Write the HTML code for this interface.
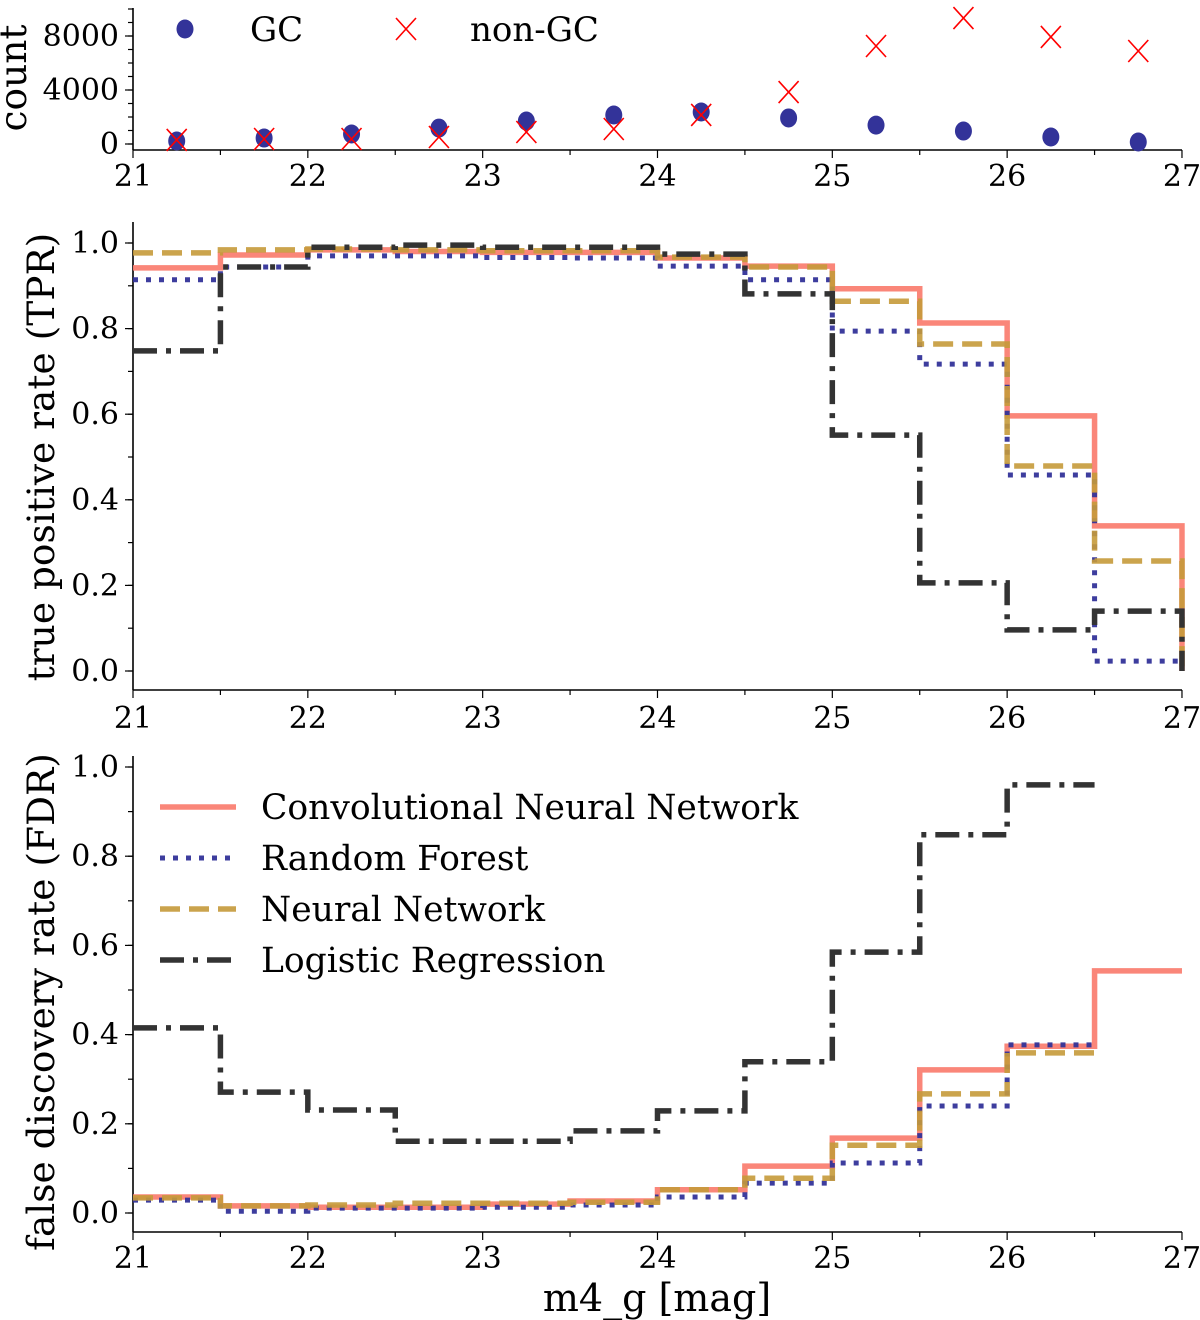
<!DOCTYPE html>
<html><head><meta charset="utf-8"><style>
html,body{margin:0;padding:0;background:#fff;}
svg{display:block;font-family:"DejaVu Serif","Liberation Serif",serif;}
</style></head><body>
<svg id="chart" width="1200" height="1320" viewBox="0 0 1200 1320" xmlns="http://www.w3.org/2000/svg"></svg>
<script>
const binCenters = [21.25,21.75,22.25,22.75,23.25,23.75,24.25,24.75,25.25,25.75,26.25,26.75];
const gcCounts = [220,440,740,1180,1700,2150,2370,1930,1400,960,520,150];
const nonGcCounts = [300,370,370,520,890,1110,2150,3850,7260,9330,7930,6890];
const binEdges = [21,21.5,22,22.5,23,23.5,24,24.5,25,25.5,26,26.5,27];
const tprCNN = [0.942,0.972,0.984,0.98,0.978,0.978,0.965,0.946,0.893,0.813,0.596,0.339];
const tprRF = [0.914,0.944,0.97,0.97,0.966,0.965,0.946,0.914,0.794,0.717,0.458,0.023];
const tprNN = [0.977,0.984,0.986,0.984,0.982,0.982,0.967,0.944,0.864,0.764,0.479,0.257];
const tprLR = [0.748,0.944,0.99,0.995,0.99,0.99,0.974,0.881,0.551,0.206,0.096,0.14];
const fdrCNN = [0.036,0.016,0.013,0.013,0.02,0.027,0.052,0.105,0.168,0.321,0.374,0.543];
const fdrRF = [0.029,0.004,0.011,0.011,0.013,0.018,0.036,0.067,0.112,0.24,0.377];
const fdrNN = [0.034,0.016,0.018,0.022,0.022,0.024,0.052,0.078,0.152,0.267,0.359];
const fdrLR = [0.415,0.271,0.231,0.161,0.161,0.184,0.229,0.339,0.585,0.848,0.96];
const xTicks = [21,22,23,24,25,26,27];
const countTicks = [0,4000,8000];
const rateTicks = [0.0,0.2,0.4,0.6,0.8,1.0];

const NS="http://www.w3.org/2000/svg";
const svg=document.getElementById('chart');
function mk(tag,attrs,parent){const e=document.createElementNS(NS,tag);for(const k in attrs)e.setAttribute(k,attrs[k]);(parent||svg).appendChild(e);return e;}
const X=v=>133+(v-21)*174.83;
const panels={
  top:{y0:144,scale:108/8000,top:8,bottom:150,labY:186},
  mid:{y0:671,scale:428,top:222,bottom:690,labY:728},
  bot:{y0:1213,scale:446,top:756,bottom:1232,labY:1268}
};
function Y(p,v){return p.y0-v*p.scale;}

function axes(name,p,yTicks,yMinor,fmt){
  const g=mk('g',{});
  
  
  mk('line',{x1:133,y1:p.top,x2:133,y2:p.bottom,stroke:'#000','stroke-width':1.6},g);
  mk('line',{x1:133,y1:p.bottom,x2:1182,y2:p.bottom,stroke:'#000','stroke-width':1.6},g);
  for(let v=21;v<=27.001;v+=0.5){
    const major=Math.abs(v-Math.round(v))<1e-6;
    mk('line',{x1:X(v),y1:p.bottom,x2:X(v),y2:p.bottom+(major?8:5),stroke:'#000','stroke-width':1.2},g);
  }
  xTicks.forEach(v=>{const t=mk('text',{x:X(v),y:p.labY,'text-anchor':'middle','font-size':30},g);t.textContent=v;
    });
  yMinor.forEach(v=>{const yy=Y(p,v);if(yy<p.top-1)return;mk('line',{x1:128,y1:yy,x2:133,y2:yy,stroke:'#000','stroke-width':1.2},g);});
  yTicks.forEach(v=>{const yy=Y(p,v);mk('line',{x1:125,y1:yy,x2:133,y2:yy,stroke:'#000','stroke-width':1.2},g);
    const t=mk('text',{x:119,y:yy+10,'text-anchor':'end','font-size':30},g);t.textContent=fmt(v);
    });
}
const cMinor=[];for(let v=0;v<=10000;v+=1000)cMinor.push(v);
const rMinor=[];for(let i=0;i<=10;i++)rMinor.push(i/10);
axes('count',panels.top,countTicks,cMinor,v=>String(v));
axes('tpr',panels.mid,rateTicks,rMinor,v=>v.toFixed(1));
axes('fdr',panels.bot,rateTicks,rMinor,v=>v.toFixed(1));

function ylab(txt,x,y,name){const t=mk('text',{x:x,y:y,'text-anchor':'middle','font-size':37.5,transform:`rotate(-90 ${x} ${y})`});t.textContent=txt;
  }
ylab('count',26,78,'count-axis-title');
ylab('true positive rate (TPR)',54,457,'tpr-axis-title');
ylab('false discovery rate (FDR)',54,1002,'fdr-axis-title');
const xl=mk('text',{x:657,y:1311,'text-anchor':'middle','font-size':38});xl.textContent='m4_g [mag]';


const P=panels.top;
binCenters.forEach((c,i)=>{
  const e=mk('ellipse',{cx:X(c),cy:Y(P,gcCounts[i]),rx:8.5,ry:9.5,fill:'#333399'});
  
});
binCenters.forEach((c,i)=>{
  const x=X(c),y=Y(P,nonGcCounts[i]);
  const e=mk('path',{d:`M${x-10} ${y-11}L${x+10} ${y+11}M${x-10} ${y+11}L${x+10} ${y-11}`,stroke:'#ff0000','stroke-width':1.6,fill:'none'});
  
});
const lg1=mk('g',{});
mk('ellipse',{cx:185,cy:29,rx:8.5,ry:9.5,fill:'#333399'},lg1);
let t=mk('text',{x:250,y:41,'font-size':34},lg1);t.textContent='GC';
mk('path',{d:'M396 18L416 40M396 40L416 18',stroke:'#ff0000','stroke-width':1.6},lg1);
t=mk('text',{x:470,y:41,'font-size':34},lg1);t.textContent='non-GC';

const styles={
  cnn:{stroke:'#fa8072',w:5.5,dash:'',op:0.95},
  rf:{stroke:'#333399',w:5,dash:'5 8',op:0.95},
  nn:{stroke:'#c59a3a',w:5.5,dash:'20 9',op:0.9},
  lr:{stroke:'#333333',w:5.5,dash:'24 9 5 9',op:1}
};
function step(p,vals,st,name,drop){
  let d='';
  vals.forEach((v,i)=>{const x0=X(binEdges[i]),x1=X(binEdges[i+1]),y=Y(p,v);
    d+=(i===0?`M${x0} ${y}`:`L${x0} ${y}`)+`L${x1} ${y}`;});
  if(drop)d+=`L${X(binEdges[vals.length])} ${Y(p,0)}`;
  const e=mk('path',{d:d,fill:'none',stroke:st.stroke,'stroke-width':st.w,'stroke-dasharray':st.dash,opacity:st.op});
  
}
step(panels.mid,tprCNN,styles.cnn,'tpr-cnn-line',true);
step(panels.mid,tprRF,styles.rf,'tpr-rf-line',true);
step(panels.mid,tprNN,styles.nn,'tpr-nn-line',true);
step(panels.mid,tprLR,styles.lr,'tpr-lr-line',true);
step(panels.bot,fdrCNN,styles.cnn,'fdr-cnn-line',false);
step(panels.bot,fdrRF,styles.rf,'fdr-rf-line',false);
step(panels.bot,fdrNN,styles.nn,'fdr-nn-line',false);
step(panels.bot,fdrLR,styles.lr,'fdr-lr-line',false);

const lg=mk('g',{});
[['cnn','Convolutional Neural Network',807],['rf','Random Forest',858],['nn','Neural Network',909],['lr','Logistic Regression',960]].forEach(([k,txt,y])=>{
  const st=styles[k];
  mk('line',{x1:160,y1:y,x2:236,y2:y,stroke:st.stroke,'stroke-width':st.w,'stroke-dasharray':st.dash,opacity:st.op},lg);
  const tt=mk('text',{x:261,y:y+12,'font-size':34.5},lg);tt.textContent=txt;
  
});
</script>
</body></html>
